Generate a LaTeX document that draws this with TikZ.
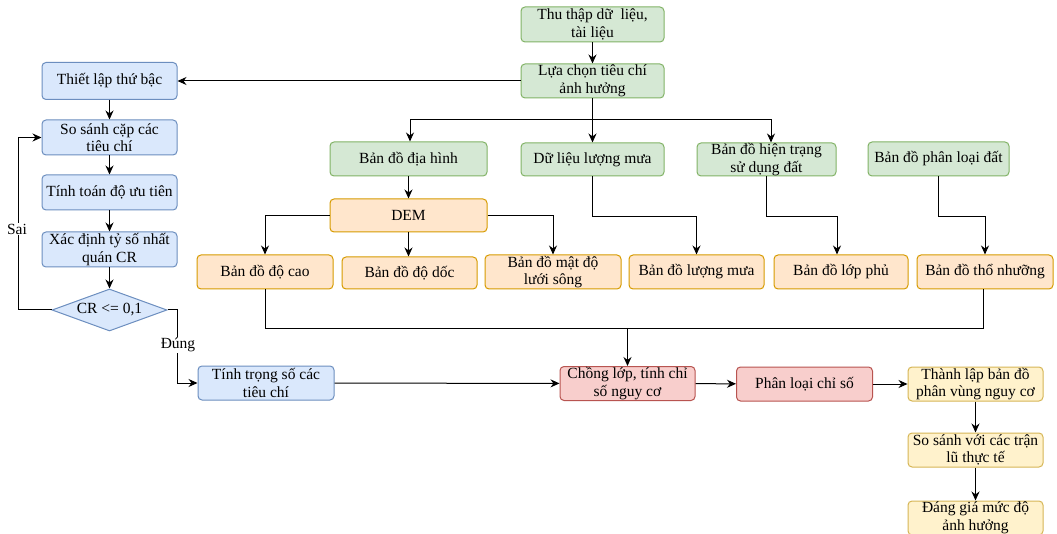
\documentclass[tikz,border=0pt]{standalone}
\usepackage{fontspec}
\setmainfont{Liberation Serif}
\usetikzlibrary{shapes.geometric,arrows.meta}
\definecolor{bfill}{HTML}{DAE8FC}\definecolor{bdraw}{HTML}{6C8EBF}
\definecolor{gfill}{HTML}{D5E8D4}\definecolor{gdraw}{HTML}{82B366}
\definecolor{ofill}{HTML}{FFE6CC}\definecolor{odraw}{HTML}{D79B00}
\definecolor{rfill}{HTML}{F8CECC}\definecolor{rdraw}{HTML}{B85450}
\definecolor{yfill}{HTML}{FFF2CC}\definecolor{ydraw}{HTML}{D6B656}
\begin{document}
\begin{tikzpicture}[x=1pt,y=-1pt,
  every node/.style={font=\fontsize{15.5}{17.5}\selectfont},
  box/.style={rectangle,rounded corners=4pt,line width=1pt,inner sep=0pt,align=center,minimum width=#1},
  box/.default=135pt,
  bluebox/.style={box=#1,fill=bfill,draw=bdraw},
  greenbox/.style={box=#1,fill=gfill,draw=gdraw},
  orangebox/.style={box=#1,fill=ofill,draw=odraw},
  redbox/.style={box=#1,fill=rfill,draw=rdraw},
  yellowbox/.style={box=#1,fill=yfill,draw=ydraw},
  bluebox/.default=135pt,greenbox/.default=135pt,orangebox/.default=135pt,
  redbox/.default=135pt,yellowbox/.default=135pt,
  arr/.style={line width=1pt,-{Stealth[length=9pt,width=8pt]}},
  ln/.style={line width=1pt},
  lbl/.style={fill=white,inner sep=1pt}]
\useasboundingbox[fill=white] (0,0) rectangle (1057,534);

% top
\node[greenbox=143pt,minimum height=35pt] (thu) at (592.5,24.5) {Thu thập dữ~ liệu,\\tài liệu};
\node[greenbox=143pt,minimum height=34pt] (lua) at (592.5,81) {Lựa chọn tiêu chí\\ảnh hưởng};

% left column
\node[bluebox,minimum height=37pt] (thietlap) at (109.5,81) {Thiết lập thứ bậc};
\node[bluebox,minimum height=35pt] (sosanh) at (109.5,137.5) {So sánh cặp các\\tiêu chí};
\node[bluebox,minimum height=35pt] (tinhtoan) at (109.5,192.5) {Tính toán độ ưu tiên};
\node[bluebox,minimum height=35pt] (xacdinh) at (109.5,249.5) {Xác định tỷ số nhất\\quán CR};
\node[diamond,aspect=2.74,minimum width=115pt,minimum height=42pt,inner sep=0pt,
      fill=bfill,draw=bdraw,line width=1pt] (cr) at (109.5,310) {CR <= 0,1};
\node[bluebox=136pt,minimum height=34pt] (trongso) at (266,383) {Tính trọng số các\\tiêu chí};

% sources
\node[greenbox=157pt,minimum height=34pt] (diahinh) at (408.5,159) {Bản đồ địa hình};
\node[greenbox=143pt,minimum height=33pt] (dulieu) at (592.5,159.5) {Dữ liệu lượng mưa};
\node[greenbox=139pt,minimum height=33pt] (hientrang) at (766.5,159.5) {Bản đồ hiện trạng\\sử dụng đất};
\node[greenbox=141pt,minimum height=34pt] (phanloaidat) at (938.5,159) {Bản đồ phân loại đất};
\node[orangebox=157pt,minimum height=33pt] (dem) at (408.5,215.5) {DEM};

% maps
\node[orangebox=136pt,minimum height=34pt] (docao) at (265,272) {Bản đồ độ cao};
\node[orangebox,minimum height=32pt] (docdoc) at (409.5,273) {Bản đồ độ dốc};
\node[orangebox=136pt,minimum height=34pt] (matdo) at (553,272) {Bản đồ mật độ\\lưới sông};
\node[orangebox,minimum height=34pt] (luongmua) at (696.5,272) {Bản đồ lượng mưa};
\node[orangebox=134pt,minimum height=34pt] (lopphu) at (841,272) {Bản đồ lớp phủ};
\node[orangebox=136pt,minimum height=34pt] (thonhuong) at (985,272) {Bản đồ thổ nhưỡng};

% bottom chain
\node[redbox,minimum height=34pt] (chonglop) at (627.5,383.5) {Chồng lớp, tính chỉ\\số nguy cơ};
\node[redbox=136pt,minimum height=34pt] (phanloaics) at (804.5,384) {Phân loại chỉ số};
\node[yellowbox,minimum height=34pt] (thanhlap) at (975.5,384) {Thành lập bản đồ\\phân vùng nguy cơ};
\node[yellowbox,minimum height=34pt] (sosanhvoi) at (975.5,450) {So sánh với các trận\\lũ thực tế};
\node[yellowbox,minimum height=34pt] (danhgia) at (975.5,518) {Đáng giá mức độ\\ảnh hưởng};

% connectors top
\draw[arr] (thu) -- (lua);
\draw[arr] (lua.west) -- (thietlap.east);
\draw[arr] (lua) -- (dulieu);
\coordinate (bust) at (592.5,120);
\draw[arr] (bust) -| ([xshift=1.5pt]diahinh.north);
\draw[arr] (bust) -| ([xshift=4.5pt]hientrang.north);

% left column
\draw[arr] (thietlap) -- (sosanh);
\draw[arr] (sosanh) -- (tinhtoan);
\draw[arr] (tinhtoan) -- (xacdinh);
\draw[arr] (xacdinh) -- (cr);
\coordinate (sailoop) at (18,310);
\draw[arr] (cr.west) -- (sailoop) |- (sosanh.west);
\node[lbl] (sai) at (17,229) {Sai};
\coordinate (dungc) at (177,310);
\draw[arr] (cr.east) -- (dungc) |- (trongso.west);
\node[lbl] (dung) at (178,345) {Đúng};

% DEM
\draw[arr] (diahinh) -- (dem);
\draw[arr] (dem.west) -| (docao.north);
\draw[arr] (dem.south) -- (dem.south |- docdoc.north);
\draw[arr] (dem.east) -| (matdo.north);
\draw[arr] (dulieu.south) -- ++(0,40) -| (luongmua.north);
\draw[arr] (hientrang.south) -- ++(0,40) -| ([xshift=-4pt]lopphu.north);
\draw[arr] (phanloaidat.south) -- ++(0,40) -| (thonhuong.north);

% bottom bus
\draw[ln] (docao.south) -- ++(0,39) -| ([xshift=-2pt]thonhuong.south);
\coordinate (busb) at (627.5,328);
\draw[arr] (busb) -- (chonglop.north);

% chain
\draw[arr] (trongso) -- (chonglop);
\draw[arr] (chonglop) -- (phanloaics);
\draw[arr] (phanloaics) -- (thanhlap);
\draw[arr] (thanhlap) -- (sosanhvoi);
\draw[arr] (sosanhvoi) -- (danhgia);
\end{tikzpicture}
\end{document}
